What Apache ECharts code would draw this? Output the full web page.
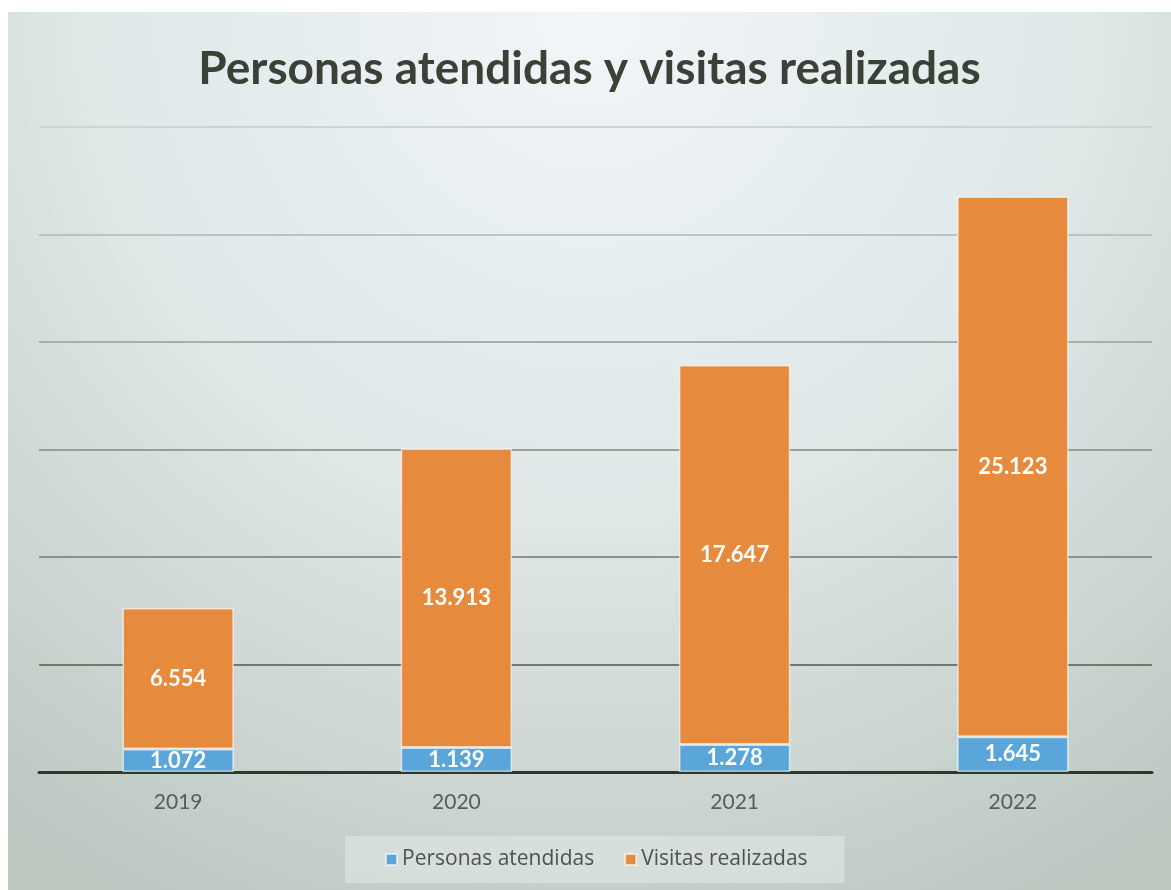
<!DOCTYPE html>
<html>
<head>
<meta charset="utf-8">
<script src="https://cdn.jsdelivr.net/npm/echarts@6/dist/echarts.min.js"></script>
<style>
html,body{margin:0;padding:0;background:#fff;width:1171px;height:890px;overflow:hidden;}
#c{position:absolute;left:8px;top:12px;width:1163px;height:878px;}
</style>
</head>
<body>
<div id="c"></div>
<script>
const categories = ['2019', '2020', '2021', '2022'];
const personasAtendidas = [1072, 1139, 1278, 1645];
const visitasRealizadas = [6554, 13913, 17647, 25123];
const seriesNames = ['Personas atendidas', 'Visitas realizadas'];
const titleText = 'Personas atendidas y visitas realizadas';

function fmt(v) {
  return String(v).replace(/\B(?=(\d{3})+(?!\d))/g, '.');
}

const chart = echarts.init(document.getElementById('c'));
const labelStyle = {
  show: true,
  position: 'inside',
  color: '#ffffff',
  fontFamily: 'Lato',
  fontWeight: 'bold',
  fontSize: 22,
  formatter: p => fmt(p.value)
};
chart.setOption({
  backgroundColor: new echarts.graphic.RadialGradient(0.5, 0.0, 1.15, [
    {offset: 0, color: '#f1f6f8'},
    {offset: 0.5, color: '#dfe7e7'},
    {offset: 1, color: '#bcc7c0'}
  ]),
  title: {
    text: titleText,
    left: 'center',
    top: 29,
    textStyle: {fontFamily: 'Lato', fontWeight: 'bold', fontSize: 46, color: '#3a4136'}
  },
  legend: {
    data: seriesNames,
    left: 337,
    top: 824,
    backgroundColor: 'rgba(228,234,233,0.55)',
    padding: [13, 37, 13, 40],
    itemWidth: 11,
    itemHeight: 11,
    itemGap: 30,
    icon: 'rect',
    textStyle: {fontFamily: 'Open Sans', fontSize: 21, color: '#4d534d'}
  },
  grid: {left: 31, right: 19, top: 115, bottom: 118, containLabel: false},
  xAxis: {
    type: 'category',
    data: categories,
    axisLine: {show: true, lineStyle: {color: '#2e382f', width: 3}},
    axisTick: {show: false},
    axisLabel: {margin: 20, fontFamily: 'Lato', fontSize: 21, color: '#595d58'}
  },
  yAxis: {
    type: 'value',
    min: 0,
    max: 30000,
    interval: 5000,
    axisLabel: {show: false},
    axisLine: {show: false},
    axisTick: {show: false},
    splitLine: {show: true, lineStyle: {width: 2, color: ['#444', '#6f7a6f', '#8a938a', '#97a097', '#a7b0a8', '#bcc4bf', '#cdd5d2']}}
  },
  series: [
    {
      name: seriesNames[0],
      type: 'bar',
      stack: 'total',
      barWidth: '40%',
      data: personasAtendidas,
      itemStyle: {color: '#5aa5d9', borderColor: 'rgba(255,255,255,0.6)', borderWidth: 1.5},
      label: labelStyle
    },
    {
      name: seriesNames[1],
      type: 'bar',
      stack: 'total',
      barWidth: '40%',
      data: visitasRealizadas,
      itemStyle: {color: '#e68b3e', borderColor: 'rgba(255,255,255,0.6)', borderWidth: 1.5},
      label: labelStyle
    }
  ]
});
</script>
</body>
</html>
